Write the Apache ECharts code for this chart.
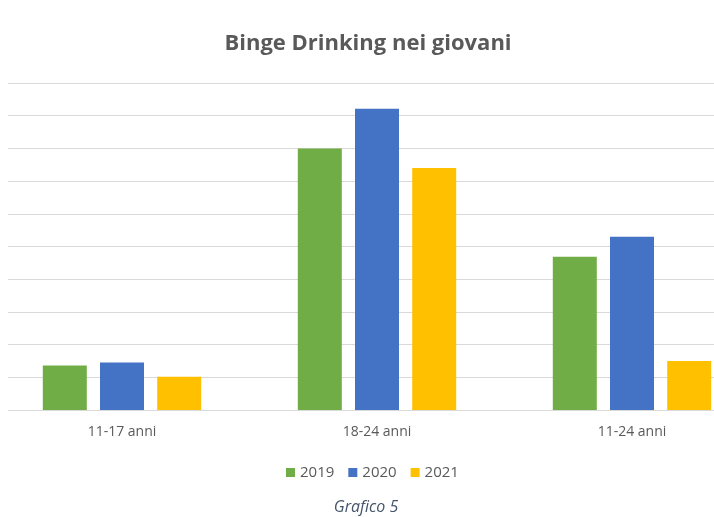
<!DOCTYPE html>
<html><head><meta charset="utf-8">
<script src="https://cdn.jsdelivr.net/npm/echarts@6/dist/echarts.min.js"></script>
<style>html,body{margin:0;padding:0;background:#fff}#c{width:714px;height:517px}</style>
</head><body><div id="c"></div>
<script>
const categories = ['11-17 anni', '18-24 anni', '11-24 anni'];
const years = ['2019', '2020', '2021'];
const values2019 = [1.36, 8.0, 4.69];
const values2020 = [1.45, 9.21, 5.30];
const values2021 = [1.02, 7.40, 1.50];
const colors = ['#70AD47', '#4472C4', '#FFC000'];

const chart = echarts.init(document.getElementById('c'), null, {renderer: 'canvas'});
const font = '"Open Sans", Lato, sans-serif';
chart.setOption({
  animation: false,
  backgroundColor: '#fff',
  title: {
    text: 'Binge Drinking nei giovani',
    left: 363, top: 28, textAlign: 'center',
    textStyle: {fontFamily: font, fontWeight: 'bold', fontSize: 22, color: '#595959'}
  },
  legend: {
    data: years, top: 460, left: 281,
    itemWidth: 9, itemHeight: 9, itemGap: 14, icon: 'rect',
    textStyle: {fontFamily: font, fontSize: 15, color: '#595959'}
  },
  grid: {left: -5.5, width: 765, top: 83, bottom: 107, outerBoundsMode: 'none', containLabel: false},
  xAxis: {
    type: 'category', data: categories,
    axisLine: {lineStyle: {color: '#d9d9d9'}},
    axisTick: {show: false},
    axisLabel: {fontFamily: font, fontSize: 14, color: '#595959', margin: 15}
  },
  yAxis: {
    type: 'value', min: 0, max: 10, interval: 1,
    axisLabel: {show: false}, axisLine: {show: false}, axisTick: {show: false},
    splitLine: {lineStyle: {color: '#d9d9d9', width: 1}}
  },
  series: [
    {name: years[0], type: 'bar', data: values2019, barWidth: 44, barGap: '30%', itemStyle: {color: colors[0]}},
    {name: years[1], type: 'bar', data: values2020, barWidth: 44, barGap: '30%', itemStyle: {color: colors[1]}},
    {name: years[2], type: 'bar', data: values2021, barWidth: 44, barGap: '30%', itemStyle: {color: colors[2]}}
  ],
  graphic: [
    {type: 'rect', shape: {x: 0, y: 70, width: 8, height: 345}, style: {fill: '#fff'}, z: 100},
    {type: 'text', x: 366, y: 499,
     style: {text: 'Grafico 5', align: 'center', fontFamily: font, fontStyle: 'italic', fontSize: 16, fill: '#44546A'}}
  ]
});
</script></body></html>
